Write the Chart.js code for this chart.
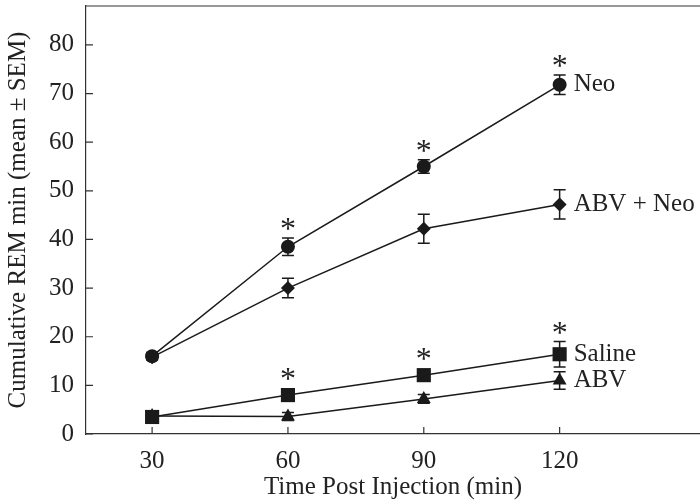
<!DOCTYPE html>
<html>
<head>
<meta charset="utf-8">
<script src="https://cdn.jsdelivr.net/npm/chart.js@4"></script>
<style>
  html, body { margin: 0; padding: 0; background: #fff; }
  #wrap { width: 700px; height: 504px; }
</style>
</head>
<body>
<div id="wrap"><canvas id="graficoREM"></canvas></div>
<script>
// datos
const tiempos = [30, 60, 90, 120];
const neo = [16, 38.5, 55, 71.8];
const neoErr = [0.7, 1.8, 1.4, 2.0];
const abvNeo = [15.8, 30, 42.2, 47.2];
const abvNeoErr = [0.6, 2.0, 3.0, 3.0];
const saline = [3.5, 8, 12.1, 16.4];
const salineErr = [0.8, 0.8, 0.9, 2.6];
const abv = [3.7, 3.6, 7.2, 11];
const abvErr = [0.6, 0.8, 0.9, 1.8];
const xTicks = [30, 60, 90, 120];
const yTicks = [0, 10, 20, 30, 40, 50, 60, 70, 80];
const nombres = ['Neo', 'ABV + Neo', 'Saline', 'ABV'];
const asteriscos = [[60, 90, 120], [], [60, 90, 120], []]; // por serie

const negro = '#1a1a1a';
const fuente = "'Liberation Serif', 'Times New Roman', serif";

function serie(nombre, valores, errores, estilo, radio) {
    return {
        label: nombre,
        data: tiempos.map((t, i) => ({ x: t, y: valores[i] })),
        errores: errores,
        borderColor: negro,
        backgroundColor: negro,
        borderWidth: 1.5,
        pointStyle: estilo,
        pointRadius: radio,
        pointBorderWidth: 0,
        tension: 0,
        clip: false
    };
}

// barras de error, asteriscos, etiquetas y marcas hacia adentro
const extras = {
    id: 'extras',
    beforeDatasetsDraw(chart) {
        const ctx = chart.ctx;
        const xs = chart.scales.x, ys = chart.scales.y;
        ctx.save();
        ctx.strokeStyle = negro;
        ctx.lineWidth = 1.5;
        chart.data.datasets.forEach(ds => {
            ds.data.forEach((p, i) => {
                const e = ds.errores[i];
                const px = xs.getPixelForValue(p.x);
                const top = ys.getPixelForValue(p.y + e);
                const bot = ys.getPixelForValue(p.y - e);
                ctx.beginPath();
                ctx.moveTo(px, top); ctx.lineTo(px, bot);
                ctx.moveTo(px - 6, top); ctx.lineTo(px + 6, top);
                ctx.moveTo(px - 6, bot); ctx.lineTo(px + 6, bot);
                ctx.stroke();
            });
        });
        ctx.restore();
    },
    afterDraw(chart) {
        const ctx = chart.ctx;
        const xs = chart.scales.x, ys = chart.scales.y;
        const area = chart.chartArea;
        ctx.save();
        ctx.strokeStyle = '#333';
        ctx.lineWidth = 1.2;
        // borde superior
        ctx.beginPath();
        ctx.moveTo(area.left, area.top);
        ctx.lineTo(area.right, area.top);
        ctx.stroke();
        // marcas de los ejes hacia adentro
        ctx.beginPath();
        xTicks.forEach(t => {
            const px = xs.getPixelForValue(t);
            ctx.moveTo(px, area.bottom); ctx.lineTo(px, area.bottom - 7);
        });
        yTicks.forEach(t => {
            const py = ys.getPixelForValue(t);
            ctx.moveTo(area.left, py); ctx.lineTo(area.left + 7, py);
        });
        ctx.stroke();

        ctx.fillStyle = '#222';
        chart.data.datasets.forEach((ds, k) => {
            // asteriscos de significancia
            ctx.font = '32px ' + fuente;
            ctx.textAlign = 'center';
            ctx.textBaseline = 'alphabetic';
            asteriscos[k].forEach(t => {
                const i = tiempos.indexOf(t);
                const p = ds.data[i];
                const topErr = ys.getPixelForValue(p.y + ds.errores[i]);
                const topPt = ys.getPixelForValue(p.y) - ds.pointRadius * 0.75;
                ctx.fillText('*', xs.getPixelForValue(t), Math.min(topErr, topPt) + 1);
            });
            // nombre de la serie al final
            ctx.font = '25px ' + fuente;
            ctx.textBaseline = 'middle';
            const ult = ds.data[ds.data.length - 1];
            ctx.textAlign = 'left';
            ctx.fillText(ds.label, xs.getPixelForValue(ult.x) + 14, ys.getPixelForValue(ult.y));
        });
        ctx.restore();
    }
};

function dibujar() {
    new Chart(document.getElementById('graficoREM').getContext('2d'), {
        type: 'line',
        data: {
            datasets: [
                serie(nombres[0], neo, neoErr, 'circle', 7),
                serie(nombres[1], abvNeo, abvNeoErr, 'rectRot', 7),
                serie(nombres[2], saline, salineErr, 'rect', 10),
                serie(nombres[3], abv, abvErr, 'triangle', 8)
            ]
        },
        options: {
            responsive: true,
            maintainAspectRatio: false,
            animation: false,
            layout: { autoPadding: false, padding: { top: 6, right: 0, left: 0, bottom: 0 } },
            plugins: {
                legend: { display: false },
                tooltip: { enabled: false }
            },
            scales: {
                x: {
                    type: 'linear',
                    min: 15.4,
                    max: 151,
                    afterFit: s => { s.height = 70; s.paddingLeft = 0; s.paddingRight = 0; },
                    afterBuildTicks: s => { s.ticks = xTicks.map(v => ({ value: v })); },
                    grid: { display: true, drawOnChartArea: false, drawTicks: false },
                    border: { display: true, color: '#333', width: 1.2 },
                    ticks: {
                        padding: 12,
                        color: '#222',
                        font: { family: fuente, size: 25 }
                    },
                    title: {
                        display: true,
                        text: 'Time Post Injection (min)',
                        color: '#222',
                        font: { family: fuente, size: 25 },
                        padding: { top: 0, bottom: 2 }
                    }
                },
                y: {
                    min: 0,
                    max: 88,
                    afterFit: s => { s.width = 86; s.paddingTop = 0; s.paddingBottom = 0; },
                    afterBuildTicks: s => { s.ticks = yTicks.map(v => ({ value: v })); },
                    grid: { display: true, drawOnChartArea: false, drawTicks: false },
                    border: { display: true, color: '#333', width: 1.2 },
                    ticks: {
                        padding: 12,
                        color: '#222',
                        font: { family: fuente, size: 25 }
                    },
                    title: {
                        display: true,
                        text: 'Cumulative REM min (mean ± SEM)',
                        color: '#222',
                        font: { family: fuente, size: 25 },
                        padding: { top: 3, bottom: 0 }
                    }
                }
            }
        },
        plugins: [extras]
    });
}

document.fonts.load("25px 'Liberation Serif'").then(dibujar, dibujar);
</script>
</body>
</html>
